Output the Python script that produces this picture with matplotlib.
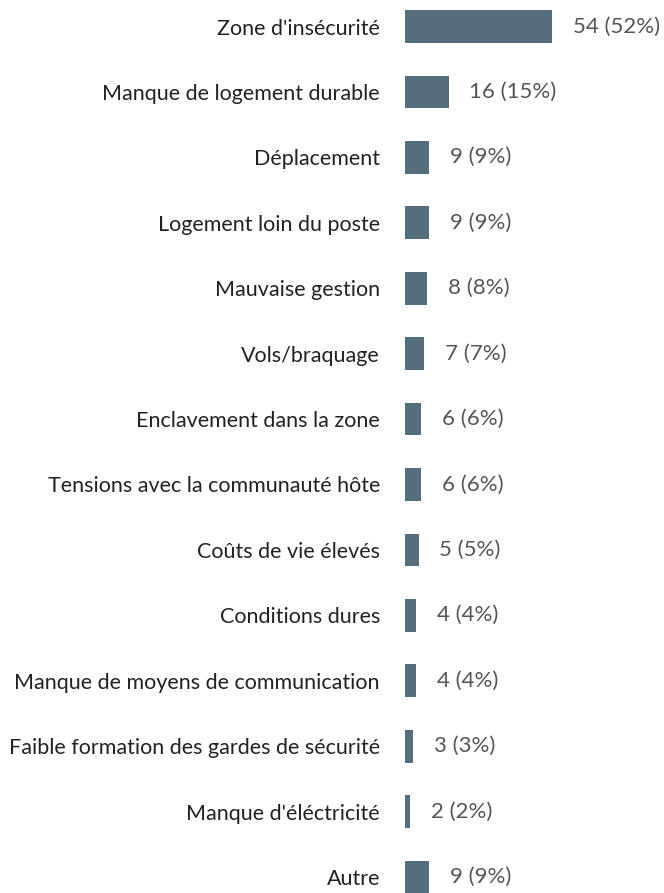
import matplotlib.pyplot as plt

# Raisons citées (effectifs et pourcentages)
categories = [
    "Zone d'insécurité",
    "Manque de logement durable",
    "Déplacement",
    "Logement loin du poste",
    "Mauvaise gestion",
    "Vols/braquage",
    "Enclavement dans la zone",
    "Tensions avec la communauté hôte",
    "Coûts de vie élevés",
    "Conditions dures",
    "Manque de moyens de communication",
    "Faible formation des gardes de sécurité",
    "Manque d'éléctricité",
    "Autre",
]
effectifs = [54, 16, 9, 9, 8, 7, 6, 6, 5, 4, 4, 3, 2, 9]
pourcentages = [52, 15, 9, 9, 8, 7, 6, 6, 5, 4, 4, 3, 2, 9]

plt.rcParams['font.family'] = ['Lato', 'DejaVu Sans']

W, H = 664, 893
fig = plt.figure(figsize=(W / 100, H / 100), dpi=100)
ax = fig.add_axes([405 / W, 0, 1 - 405 / W, 1])

y = list(range(len(categories)))
ax.barh(y, effectifs, height=0.5, color='#546e7e')

ax.set_xlim(0, (W - 405) / 2.72)
ax.set_ylim(13 + 16 / 65.4, -26.5 / 65.4)

ax.set_yticks(y)
ax.set_yticklabels(categories, fontsize=15.5, color='#222222')
ax.tick_params(axis='y', length=0, pad=18)
ax.set_xticks([])
for s in ax.spines.values():
    s.set_visible(False)

for yi, n, p in zip(y, effectifs, pourcentages):
    ax.annotate(f"{n} ({p}%)", xy=(n, yi), xytext=(15, 0),
                textcoords='offset points', va='center', ha='left',
                fontsize=16, color='#555555')

fig.savefig('out.png', dpi=100)
